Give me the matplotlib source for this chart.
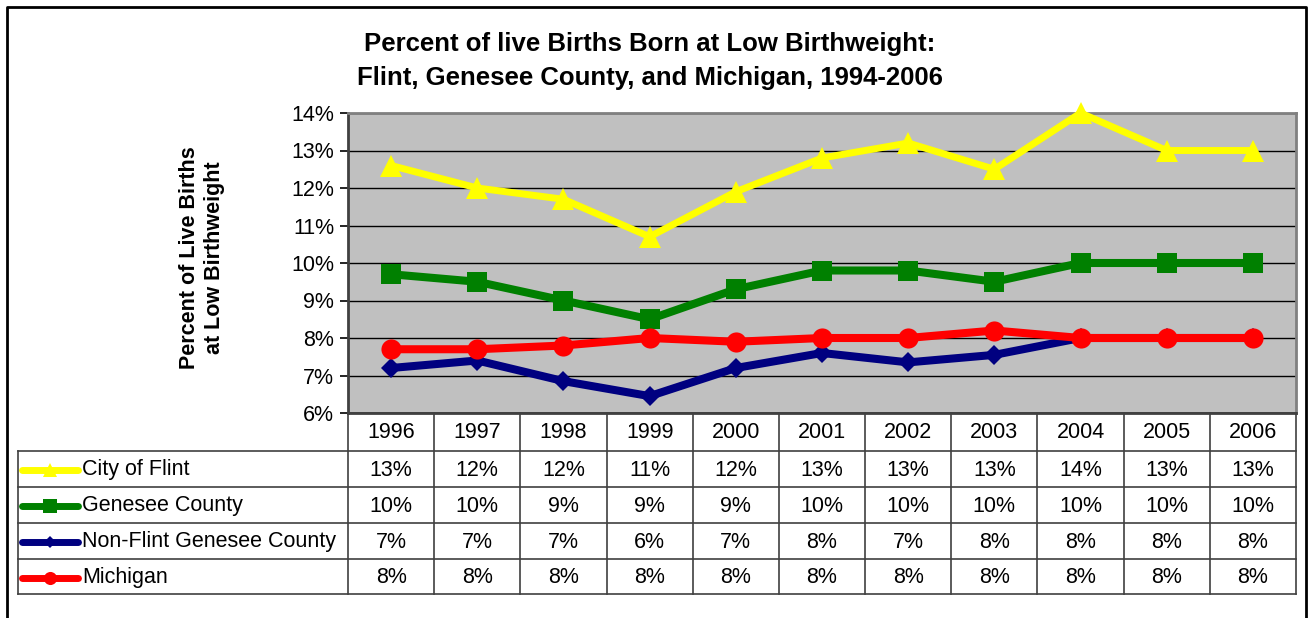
import numpy as np
import matplotlib
matplotlib.use("Agg")
import matplotlib.pyplot as plt
from matplotlib.lines import Line2D

plt.rcParams['font.family'] = ['Liberation Sans', 'DejaVu Sans']

years = ["1996", "1997", "1998", "1999", "2000", "2001", "2002", "2003", "2004", "2005", "2006"]
flint = [12.6, 12.0, 11.7, 10.7, 11.9, 12.8, 13.2, 12.5, 14.0, 13.0, 13.0]
genesee = [9.7, 9.5, 9.0, 8.5, 9.3, 9.8, 9.8, 9.5, 10.0, 10.0, 10.0]
nonflint = [7.2, 7.4, 6.85, 6.45, 7.2, 7.6, 7.35, 7.55, 8.0, 8.0, 8.0]
michigan = [7.7, 7.7, 7.8, 8.0, 7.9, 8.0, 8.0, 8.2, 8.0, 8.0, 8.0]

series_names = ["City of Flint", "Genesee County", "Non-Flint Genesee County", "Michigan"]
series_vals = [flint, genesee, nonflint, michigan]
series_colors = ["#FFFF00", "#008000", "#000080", "#FF0000"]
series_markers = ["^", "s", "D", "o"]
series_msize = [15.5, 15, 10, 14.5]
series_lw = [5, 5.8, 5.8, 5.8]

W, H = 1309, 618
fig = plt.figure(figsize=(W / 100, H / 100), dpi=100)

FS = 15.5

# pixel layout
px_l, px_r, px_t, px_b = 348, 1296, 113, 413
ax = fig.add_axes([px_l / W, (H - px_b) / H, (px_r - px_l) / W, (px_b - px_t) / H])
ax.set_facecolor("#C0C0C0")
n = len(years)
ax.set_xlim(-0.5, n - 0.5)
ax.set_ylim(6, 14)
ax.set_yticks(np.arange(6, 15, 1))
ax.set_yticklabels([f"{t}%" for t in range(6, 15)], fontsize=FS)
ax.set_xticks([])
ax.tick_params(axis='y', direction='out', length=6, width=1.2, color='black', pad=4)
ax.grid(axis='y', color='black', linewidth=1)
ax.set_axisbelow(True)
for s in ['top', 'right']:
    ax.spines[s].set_color('#808080')
    ax.spines[s].set_linewidth(2)
ax.spines['left'].set_color('#404040')
ax.spines['left'].set_linewidth(2)
ax.spines['bottom'].set_color('#404040')
ax.spines['bottom'].set_linewidth(2)

x = np.arange(n)
for name, vals, c, m, ms, lw in zip(series_names, series_vals, series_colors, series_markers, series_msize, series_lw):
    ax.plot(x, vals, color=c, marker=m, markersize=ms, linewidth=lw, markeredgewidth=0, clip_on=False, zorder=3)

# overlay for table, title, labels
ov = fig.add_axes([0, 0, 1, 1], facecolor='none')
ov.set_xlim(0, W)
ov.set_ylim(H, 0)
ov.axis('off')

# figure frame (top, left, right)
ov.plot([7, 7, 1306, 1306], [H + 5, 7, 7, H + 5], color='black', linewidth=2, clip_on=False)

fig.text(650 / W, 1 - 44 / H, "Percent of live Births Born at Low Birthweight:", ha='center', va='center',
         fontsize=18.5, fontweight='bold')
fig.text(650 / W, 1 - 78 / H, "Flint, Genesee County, and Michigan, 1994-2006", ha='center', va='center',
         fontsize=18.5, fontweight='bold')
fig.text(202 / W, 1 - 258 / H, "Percent of Live Births\nat Low Birthweight", ha='center', va='center',
         rotation=90, fontsize=FS, fontweight='bold', linespacing=1.25)

# table
colw = (px_r - px_l) / n
row_y = [413, 451, 487, 523, 559, 594]
tbl_left = 18
lc = '#404040'
for i in range(n + 1):
    xx = px_l + i * colw
    ov.plot([xx, xx], [row_y[0], row_y[-1]], color=lc, linewidth=1.2)
ov.plot([tbl_left, tbl_left], [row_y[1], row_y[-1]], color=lc, linewidth=1.2)
for j, yy in enumerate(row_y):
    x0 = px_l if j == 0 else tbl_left
    ov.plot([x0, px_r], [yy, yy], color=lc, linewidth=1.2)

for i, yr in enumerate(years):
    ov.text(px_l + (i + 0.5) * colw, (row_y[0] + row_y[1]) / 2 + 1, yr, ha='center', va='center', fontsize=FS)

for r, (name, vals, c, m, ms) in enumerate(zip(series_names, series_vals, series_colors, series_markers, series_msize)):
    yc = (row_y[r + 1] + row_y[r + 2]) / 2 + 1
    ov.add_line(Line2D([22, 78], [yc, yc], color=c, linewidth=5, solid_capstyle='round'))
    ov.add_line(Line2D([50], [yc], color=c, marker=m, markersize=ms * 0.65, markeredgewidth=0))
    ov.text(82, yc, name, ha='left', va='center', fontsize=FS)
    for i, v in enumerate(vals):
        lab = f"{int(np.floor(v + 0.5))}%"
        ov.text(px_l + (i + 0.5) * colw, yc, lab, ha='center', va='center', fontsize=FS)

fig.savefig("out.png", dpi=100)
